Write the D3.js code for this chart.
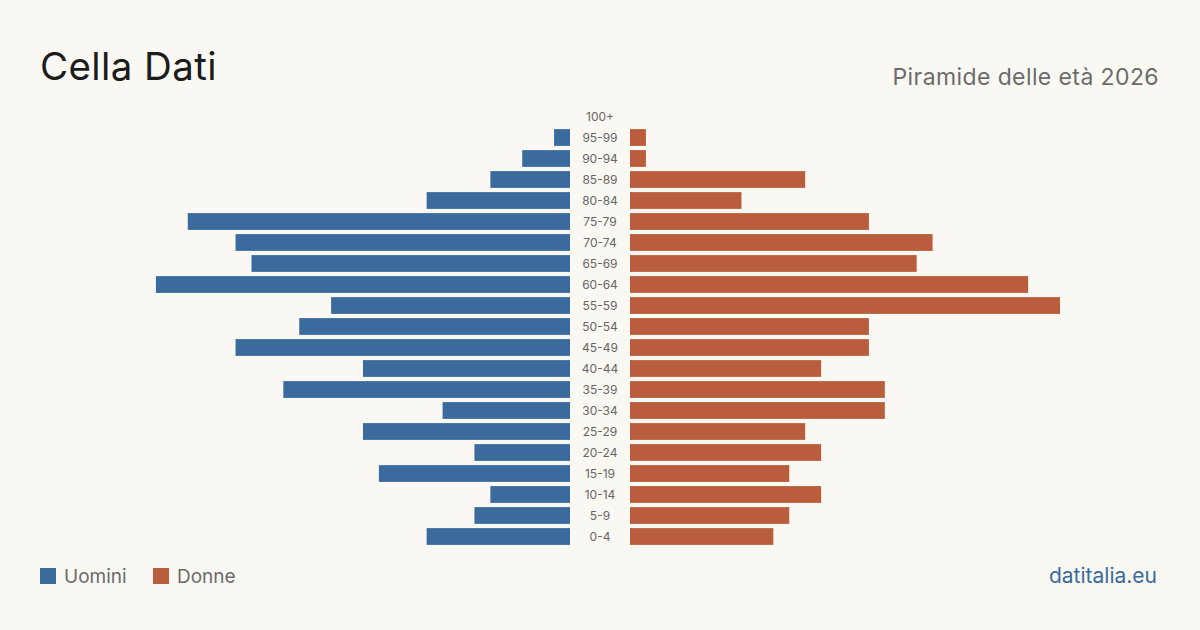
<!DOCTYPE html>
<html><head><meta charset="utf-8">
<script src="https://cdn.jsdelivr.net/npm/d3@7/dist/d3.min.js"></script>
<style>html,body{margin:0;padding:0;background:#faf8f3;}svg{display:block;}</style>
</head><body>
<svg id="c" width="1200" height="630"></svg>
<script>
const ageGroups = ["100+","95-99","90-94","85-89","80-84","75-79","70-74","65-69","60-64","55-59","50-54","45-49","40-44","35-39","30-34","25-29","20-24","15-19","10-14","5-9","0-4"];
const men   = [0,1,3,5,9,24,21,20,26,15,17,21,13,18,8,13,6,12,5,6,9];
const women = [0,1,1,11,7,15,19,18,25,27,15,15,12,16,16,11,12,10,12,10,9];
const seriesNames = ["Uomini","Donne"];
const colors = ["#3b6b9c","#b95d3d"];

const svg = d3.select("#c");
const font = "Inter, 'Noto Sans', sans-serif";
svg.append("rect").attr("width",1200).attr("height",630).attr("fill","#faf8f3");

const y = d3.scaleBand().domain(ageGroups).range([106,547]).paddingInner(0.2).paddingOuter(0.1);
const maxV = d3.max([...men,...women]);
const xL = d3.scaleLinear().domain([0,maxV]).range([570,140]);
const xR = d3.scaleLinear().domain([0,maxV]).range([630,1060]);

svg.append("g").selectAll("rect").data(men.map((v,i)=>({v,a:ageGroups[i]}))).join("rect")
  .attr("x",d=>xL(d.v)).attr("width",d=>xL(0)-xL(d.v))
  .attr("y",d=>y(d.a)).attr("height",y.bandwidth()).attr("fill",colors[0]);
svg.append("g").selectAll("rect").data(women.map((v,i)=>({v,a:ageGroups[i]}))).join("rect")
  .attr("x",xR(0)).attr("width",d=>xR(d.v)-xR(0))
  .attr("y",d=>y(d.a)).attr("height",y.bandwidth()).attr("fill",colors[1]);

svg.append("g").selectAll("text").data(ageGroups).join("text")
  .attr("x",600).attr("y",d=>y(d)+y.bandwidth()/2).attr("dy","0.35em")
  .attr("text-anchor","middle").attr("font-family",font).attr("font-size",12)
  .attr("fill","#666").text(d=>d);

svg.append("text").attr("x",40).attr("y",80).attr("font-family",font).attr("font-size",38.5)
  .attr("letter-spacing",0.4).attr("fill","#1c1c1c").text("Cella Dati");
svg.append("text").attr("x",1159).attr("y",85).attr("text-anchor","end").attr("font-family",font)
  .attr("font-size",23).attr("letter-spacing",0.4).attr("fill","#6b6b6b").text("Piramide delle età 2026");

const lg = svg.append("g");
const lx = [40,153];
seriesNames.forEach((n,i)=>{
  lg.append("rect").attr("x",lx[i]).attr("y",568).attr("width",16).attr("height",16).attr("fill",colors[i]);
  lg.append("text").attr("x",lx[i]+24).attr("y",583).attr("font-family",font).attr("font-size",19)
    .attr("fill","#6b6b6b").text(n);
});
svg.append("text").attr("x",1157).attr("y",583).attr("text-anchor","end").attr("font-family",font)
  .attr("font-size",21).attr("fill","#3b6b9c").text("datitalia.eu");
</script>
</body></html>
